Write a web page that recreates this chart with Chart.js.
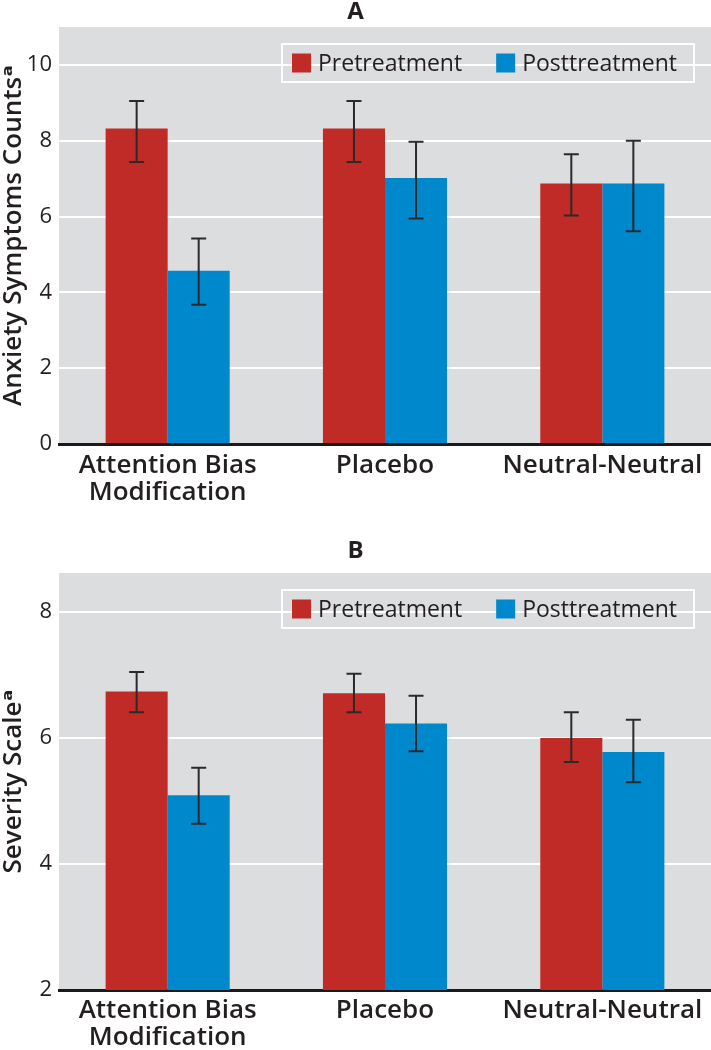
<!DOCTYPE html>
<html>
<head>
<meta charset="utf-8">
<script src="https://cdn.jsdelivr.net/npm/chart.js@4"></script>
<style>
  html, body { margin: 0; padding: 0; background: #ffffff; }
  body { width: 711px; height: 1050px; position: relative; overflow: hidden; }
  canvas { position: absolute; left: 0; }
  #cA { top: 0; }
  #cB { top: 525px; }
</style>
</head>
<body>
<canvas id="cA" width="711" height="525"></canvas>
<canvas id="cB" width="711" height="525"></canvas>
<script>
// ---------- data ----------
const categories = [['Attention Bias', 'Modification'], 'Placebo', 'Neutral-Neutral'];
const seriesNames = ['Pretreatment', 'Posttreatment'];

// Panel A: Anxiety symptom counts
const titleA = 'A';
const yTitleA = 'Anxiety Symptoms Counts\u1D43';
const preA = [8.32, 8.32, 6.87];
const preA_lo = [7.44, 7.44, 6.03];
const preA_hi = [9.05, 9.05, 7.64];
const postA = [4.57, 7.02, 6.87];
const postA_lo = [3.67, 5.95, 5.61];
const postA_hi = [5.42, 7.97, 8.00];
const ticksA = [0, 2, 4, 6, 8, 10];

// Panel B: Severity scale
const titleB = 'B';
const yTitleB = 'Severity Scale\u1D43';
const preB = [6.74, 6.71, 6.00];
const preB_lo = [6.41, 6.41, 5.62];
const preB_hi = [7.05, 7.02, 6.41];
const postB = [5.09, 6.23, 5.78];
const postB_lo = [4.64, 5.79, 5.30];
const postB_hi = [5.53, 6.67, 6.29];
const ticksB = [2, 4, 6, 8];

// ---------- styles ----------
const RED = '#c12b27';
const BLUE = '#0088cc';
const BG = '#dcdddf';
const INK = '#231f20';
const FONT = "'Open Sans', 'DejaVu Sans', sans-serif";

const bgPlugin = {
  id: 'plotBg',
  beforeDraw(chart) {
    const { ctx, chartArea: a } = chart;
    ctx.save();
    ctx.fillStyle = BG;
    ctx.fillRect(a.left, a.top, a.right - a.left, a.bottom - a.top);
    ctx.restore();
  }
};

const errPlugin = {
  id: 'errBars',
  afterDatasetsDraw(chart) {
    const { ctx } = chart;
    const ys = chart.scales.y;
    ctx.save();
    ctx.strokeStyle = '#2a2a2a';
    ctx.lineWidth = 2;
    chart.data.datasets.forEach((ds, i) => {
      const meta = chart.getDatasetMeta(i);
      meta.data.forEach((el, j) => {
        const x = el.x;
        const yl = ys.getPixelForValue(ds.errLo[j]);
        const yh = ys.getPixelForValue(ds.errHi[j]);
        ctx.beginPath();
        ctx.moveTo(x, yl); ctx.lineTo(x, yh);
        ctx.moveTo(x - 7.5, yl); ctx.lineTo(x + 7.5, yl);
        ctx.moveTo(x - 7.5, yh); ctx.lineTo(x + 7.5, yh);
        ctx.stroke();
      });
    });
    ctx.restore();
  }
};

const legendPlugin = {
  id: 'boxLegend',
  afterDraw(chart) {
    const { ctx, chartArea: a } = chart;
    const ds = chart.data.datasets;
    ctx.save();
    ctx.font = '23px ' + FONT;
    const sq = 19, padL = 10, gapT = 7, gapItem = 34, padR = 17, h = 38;
    const widths = ds.map(d => ctx.measureText(d.label).width);
    let total = padL + padR;
    widths.forEach((w, i) => { total += sq + gapT + w + (i < widths.length - 1 ? gapItem : 0); });
    const right = a.right - 17;
    const left = right - total;
    const top = a.top + 17;
    ctx.strokeStyle = '#ffffff';
    ctx.lineWidth = 2;
    ctx.strokeRect(left, top, total, h);
    let x = left + padL;
    const cy = top + h / 2;
    ds.forEach((d, i) => {
      ctx.fillStyle = d.backgroundColor;
      ctx.fillRect(x, cy - sq / 2, sq, sq);
      x += sq + gapT;
      ctx.fillStyle = INK;
      ctx.textBaseline = 'middle';
      ctx.textAlign = 'left';
      ctx.fillText(d.label, x, cy + 1);
      x += widths[i] + gapItem;
    });
    ctx.restore();
  }
};

function makeChart(id, cfg) {
  return new Chart(document.getElementById(id), {
    type: 'bar',
    data: {
      labels: categories,
      datasets: [
        { label: seriesNames[0], data: cfg.pre, errLo: cfg.preLo, errHi: cfg.preHi, backgroundColor: RED },
        { label: seriesNames[1], data: cfg.post, errLo: cfg.postLo, errHi: cfg.postHi, backgroundColor: BLUE }
      ]
    },
    options: {
      responsive: false,
      animation: false,
      layout: { padding: { top: cfg.padTop, right: 0, bottom: 0, left: 0 } },
      datasets: { bar: { categoryPercentage: 0.571, barPercentage: 1.0, borderWidth: 0 } },
      plugins: {
        legend: { display: false },
        tooltip: { enabled: false },
        title: {
          display: true,
          text: cfg.title,
          color: INK,
          font: { family: FONT, size: 24, weight: 'bold', lineHeight: 1.0 },
          padding: { top: 0, bottom: cfg.titleGap }
        }
      },
      scales: {
        x: {
          grid: { display: false, drawTicks: false },
          border: { display: true, color: '#1a1a1a', width: 3 },
          ticks: {
            color: INK,
            padding: cfg.xPad,
            maxRotation: 0,
            autoSkip: false,
            font: { family: FONT, size: 26, weight: '600', lineHeight: 1.05 }
          },
          afterFit(s) { s.height = cfg.xHeight; }
        },
        y: {
          min: cfg.min,
          max: cfg.max,
          afterBuildTicks(s) { s.ticks = cfg.ticks.map(v => ({ value: v })); },
          grid: { color: '#ffffff', lineWidth: 2, drawTicks: false },
          border: { display: false },
          ticks: {
            color: INK,
            padding: 7,
            font: { family: FONT, size: 22 }
          },
          title: {
            display: true,
            text: cfg.yTitle,
            color: INK,
            padding: { top: 1, bottom: 0 },
            font: { family: FONT, size: 26, weight: '600', lineHeight: 1.0 }
          },
          afterFit(s) { s.width = 59; }
        }
      }
    },
    plugins: [bgPlugin, errPlugin, legendPlugin]
  });
}

makeChart('cA', {
  title: titleA, yTitle: yTitleA,
  pre: preA, preLo: preA_lo, preHi: preA_hi,
  post: postA, postLo: postA_lo, postHi: postA_hi,
  min: 0, max: 11, ticks: ticksA,
  padTop: 0, titleGap: 3, xHeight: 81, xPad: 8
});

makeChart('cB', {
  title: titleB, yTitle: yTitleB,
  pre: preB, preLo: preB_lo, preHi: preB_hi,
  post: postB, postLo: postB_lo, postHi: postB_hi,
  min: 2, max: 8.62, ticks: ticksB,
  padTop: 14, titleGap: 10, xHeight: 60, xPad: 7
});
</script>
</body>
</html>
